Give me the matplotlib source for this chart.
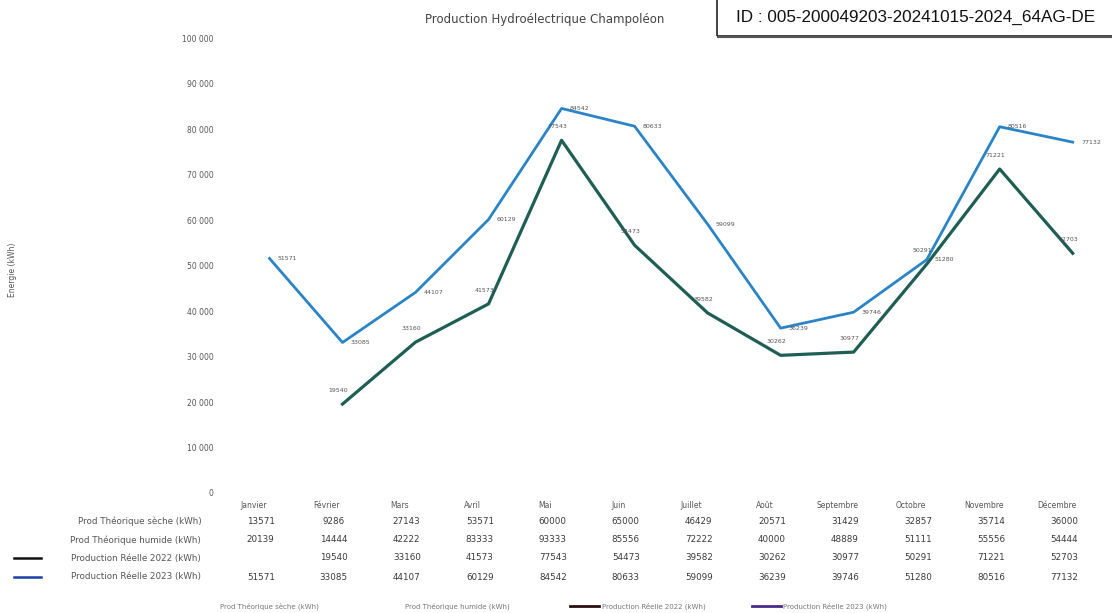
import numpy as np
import matplotlib
matplotlib.use("Agg")
import matplotlib.pyplot as plt
from matplotlib.transforms import blended_transform_factory
from matplotlib.patches import Rectangle
from matplotlib.lines import Line2D

# ---------------- data ----------------
mois = ['Janvier', 'Février', 'Mars', 'Avril', 'Mai', 'Juin', 'Juillet',
        'Août', 'Septembre', 'Octobre', 'Novembre', 'Décembre']

prod_seche = [13571, 9286, 27143, 53571, 60000, 65000, 46429,
              20571, 31429, 32857, 35714, 36000]
prod_humide = [20139, 14444, 42222, 83333, 93333, 85556, 72222,
               40000, 48889, 51111, 55556, 54444]
reel_2022 = [np.nan, 19540, 33160, 41573, 77543, 54473, 39582,
             30262, 30977, 50291, 71221, 52703]
reel_2023 = [51571, 33085, 44107, 60129, 84542, 80633, 59099,
             36239, 39746, 51280, 80516, 77132]

noms = ['Prod Théorique sèche (kWh)', 'Prod Théorique humide (kWh)',
        'Production Réelle 2022 (kWh)', 'Production Réelle 2023 (kWh)']

c_2022 = '#1f5e54'
c_2023 = '#2a84c6'
txt = '#555555'

# ---------------- figure ----------------
fig = plt.figure(figsize=(11.12, 6.13), dpi=100, facecolor='w')
ax = fig.add_axes([0.2095, 0.1958, 0.788, 0.742])

x = np.arange(len(mois))
ax.plot(x, reel_2022, color=c_2022, linewidth=2.3, zorder=3)
ax.plot(x, reel_2023, color=c_2023, linewidth=2.0, zorder=2)

# data labels
for i in range(len(mois)):
    if not np.isnan(reel_2022[i]):
        ax.annotate(str(int(reel_2022[i])), (x[i], reel_2022[i]),
                    xytext=(-3, 8), textcoords='offset points',
                    ha='center', va='bottom', fontsize=4.5, color=txt)
    ax.annotate(str(int(reel_2023[i])), (x[i], reel_2023[i]),
                xytext=(6, 0), textcoords='offset points',
                ha='left', va='center', fontsize=4.5, color=txt)

ax.set_xlim(-0.5, 11.5)
ax.set_ylim(0, 100000)
ax.set_yticks(np.arange(0, 100001, 10000))
ax.set_yticklabels(['{:,}'.format(v).replace(',', ' ') for v in range(0, 100001, 10000)])
ax.tick_params(axis='y', length=0, labelsize=5.5, labelcolor=txt, pad=14)
ax.set_xticks([])
for s in ax.spines.values():
    s.set_visible(False)

fig.text(0.011, 0.56, 'Energie (kWh)', rotation=90, fontsize=5.5,
         color=txt, ha='center', va='center')

# title
fig.text(0.49, 0.969, 'Production Hydroélectrique Champoléon', fontsize=8.5,
         color='#444444', ha='center', va='center')

# stamp box top right
fig.patches.append(Rectangle((0.645, 0.942), 0.36, 0.065,
                             transform=fig.transFigure, fill=False,
                             edgecolor='#222222', linewidth=1.2))
fig.add_artist(Line2D([0.646, 1.0], [0.940, 0.940], transform=fig.transFigure,
                      color='#555555', linewidth=1.5))
fig.text(0.823, 0.972, 'ID : 005-200049203-20241015-2024_64AG-DE',
         fontsize=12.3, family='Liberation Sans', color='#111111',
         ha='center', va='center')

# ---------------- data table ----------------
tr = blended_transform_factory(ax.transData, fig.transFigure)
y_head = 1 - 505 / 613.
y_rows = [1 - 521 / 613., 1 - 540 / 613., 1 - 558 / 613., 1 - 577 / 613.]
series = [prod_seche, prod_humide, reel_2022, reel_2023]

for i, m in enumerate(mois):
    fig.text(x[i] - 0.22, y_head, m, transform=tr, fontsize=5.5,
             color=txt, ha='center', va='center')
    for r, vals in enumerate(series):
        v = vals[i]
        if np.isnan(v):
            continue
        fig.text(x[i] - 0.12, y_rows[r], str(int(v)), transform=tr,
                 fontsize=6.3, color='#3a3a3a', ha='center', va='center')

for r, nom in enumerate(noms):
    fig.text(0.181, y_rows[r], nom, fontsize=6.3, color=txt,
             ha='right', va='center')
fig.add_artist(Line2D([0.013, 0.037], [y_rows[2], y_rows[2]],
                      transform=fig.transFigure, color='#111111', linewidth=1.8))
fig.add_artist(Line2D([0.013, 0.037], [y_rows[3], y_rows[3]],
                      transform=fig.transFigure, color='#1a3fa8', linewidth=1.8))

# bottom legend
y_leg = 1 - 606 / 613.
fig.text(0.198, y_leg, noms[0], fontsize=5, color='#777777', va='center')
fig.text(0.364, y_leg, noms[1], fontsize=5, color='#777777', va='center')
fig.add_artist(Line2D([0.513, 0.539], [y_leg, y_leg], transform=fig.transFigure,
                      color='#2a1010', linewidth=2))
fig.text(0.541, y_leg, noms[2], fontsize=5, color='#777777', va='center')
fig.add_artist(Line2D([0.676, 0.702], [y_leg, y_leg], transform=fig.transFigure,
                      color='#4a2a8a', linewidth=2))
fig.text(0.704, y_leg, noms[3], fontsize=5, color='#777777', va='center')

fig.savefig('out.png', dpi=100, facecolor='w')
